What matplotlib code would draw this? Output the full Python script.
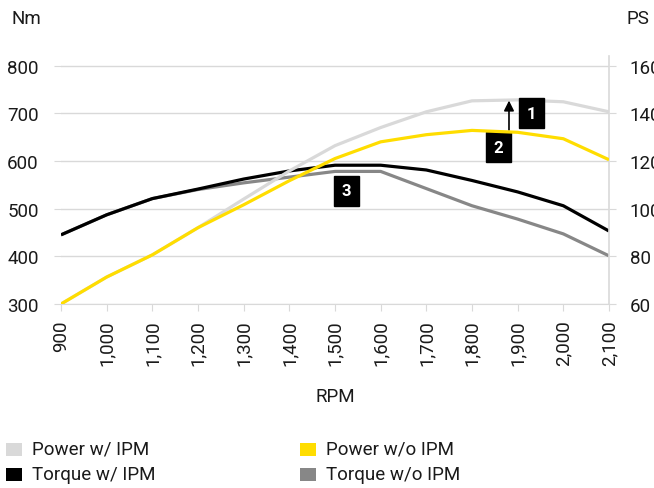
import matplotlib
matplotlib.use("Agg")
import matplotlib.pyplot as plt
from matplotlib.patches import Rectangle

plt.rcParams['font.family'] = ['Roboto', 'DejaVu Sans']

rpm = [900, 1000, 1100, 1200, 1300, 1400, 1500, 1600, 1700, 1800, 1900, 2000, 2100]
rpm_labels = ["900", "1,000", "1,100", "1,200", "1,300", "1,400", "1,500", "1,600",
              "1,700", "1,800", "1,900", "2,000", "2,100"]
power_w_ipm = [60, 71.3, 80.6, 92, 104, 115.8, 126.4, 134, 140.6, 145.2, 145.6, 144.8, 140.6]
power_wo_ipm = [60, 71.3, 80.6, 92, 101.6, 111.7, 121, 128, 131, 132.8, 132, 129.3, 120.5]
torque_w_ipm = [445, 487, 521, 541, 562, 579, 591, 591, 581, 559, 535, 506, 453]
torque_wo_ipm = [445, 487, 521, 540, 554, 566, 578, 578, 542, 506, 478, 447, 401]
nm_ticks = [300, 400, 500, 600, 700, 800]
ps_ticks = [60, 80, 100, 120, 140, 160]
series_labels = ["Power w/ IPM", "Power w/o IPM", "Torque w/ IPM", "Torque w/o IPM"]

c_pw = "#d9d9d9"
c_pwo = "#ffdd00"
c_tw = "#000000"
c_two = "#878787"
grid_c = "#d9d9d9"
txt_c = "#1a1a1a"
FS = 13.5

W, H = 654, 489
fig = plt.figure(figsize=(W/100, H/100), dpi=100)
ax = fig.add_axes([61/W, 1-305/H, (609-61)/W, (305-57)/H])
ax2 = ax.twinx()

ax.set_xlim(900, 2100)
ax.set_ylim(300, 820)
ax2.set_ylim(60, 164)

ax.set_yticks(nm_ticks)
ax2.set_yticks(ps_ticks)
ax.set_xticks(rpm)
ax.set_xticklabels(rpm_labels, rotation=90)

for t in nm_ticks:
    ax.axhline(t, color=grid_c, lw=1, zorder=0)

for a in (ax, ax2):
    for s in a.spines.values():
        s.set_visible(False)
ax2.spines['right'].set_visible(True)
ax2.spines['right'].set_color(grid_c)
ax2.spines['right'].set_linewidth(1.2)
ax.spines['bottom'].set_visible(True)
ax.spines['bottom'].set_color(grid_c)

ax.tick_params(axis='y', length=5, color=grid_c, labelsize=FS, labelcolor=txt_c, pad=11)
ax.tick_params(axis='x', length=5, color=grid_c, labelsize=FS, labelcolor=txt_c, pad=6)
ax2.tick_params(axis='y', length=5, color=grid_c, labelsize=FS, labelcolor=txt_c, pad=10)

ax.plot(rpm, torque_wo_ipm, color=c_two, lw=2.3, zorder=3, solid_capstyle='butt')
ax.plot(rpm, torque_w_ipm, color=c_tw, lw=2.3, zorder=4, solid_capstyle='butt')
ax2.plot(rpm, power_w_ipm, color=c_pw, lw=2.3, zorder=3, solid_capstyle='butt')
ax2.plot(rpm, power_wo_ipm, color=c_pwo, lw=2.3, zorder=4, solid_capstyle='butt')

ax2.annotate("", xy=(1881, 145.3), xytext=(1881, 133.0),
             arrowprops=dict(arrowstyle="-|>", color="black", lw=1.2, mutation_scale=15, shrinkA=0, shrinkB=0))

box = dict(boxstyle="square,pad=0.45", facecolor="black", edgecolor="black")
ax2.text(1930, 139.9, "1", color="white", fontsize=12, fontweight="bold", ha="center", va="center", bbox=box)
ax2.text(1858, 125.8, "2", color="white", fontsize=12, fontweight="bold", ha="center", va="center", bbox=box)
ax.text(1525, 537, "3", color="white", fontsize=12, fontweight="bold", ha="center", va="center", bbox=box)

ax.set_xlabel("RPM", fontsize=FS, color=txt_c, labelpad=16)
fig.text(26/W, 1-19/H, "Nm", fontsize=FS, color=txt_c, ha="center", va="center")
fig.text(638/W, 1-19/H, "PS", fontsize=FS, color=txt_c, ha="center", va="center")

# legend (2 x 2 grid)
leg_colors = [c_pw, c_pwo, c_tw, c_two]
leg_x = [6, 300, 6, 300]
leg_y = [450, 450, 475, 475]
for col, lab, lx, ly in zip(leg_colors, series_labels, leg_x, leg_y):
    fig.add_artist(Rectangle((lx/W, 1-(ly+6.5)/H), 16/W, 13/H, transform=fig.transFigure,
                             facecolor=col, edgecolor='none'))
    fig.text((lx+26)/W, 1-ly/H, lab, fontsize=FS, color=txt_c, ha="left", va="center")

fig.savefig("out.png", dpi=100)
